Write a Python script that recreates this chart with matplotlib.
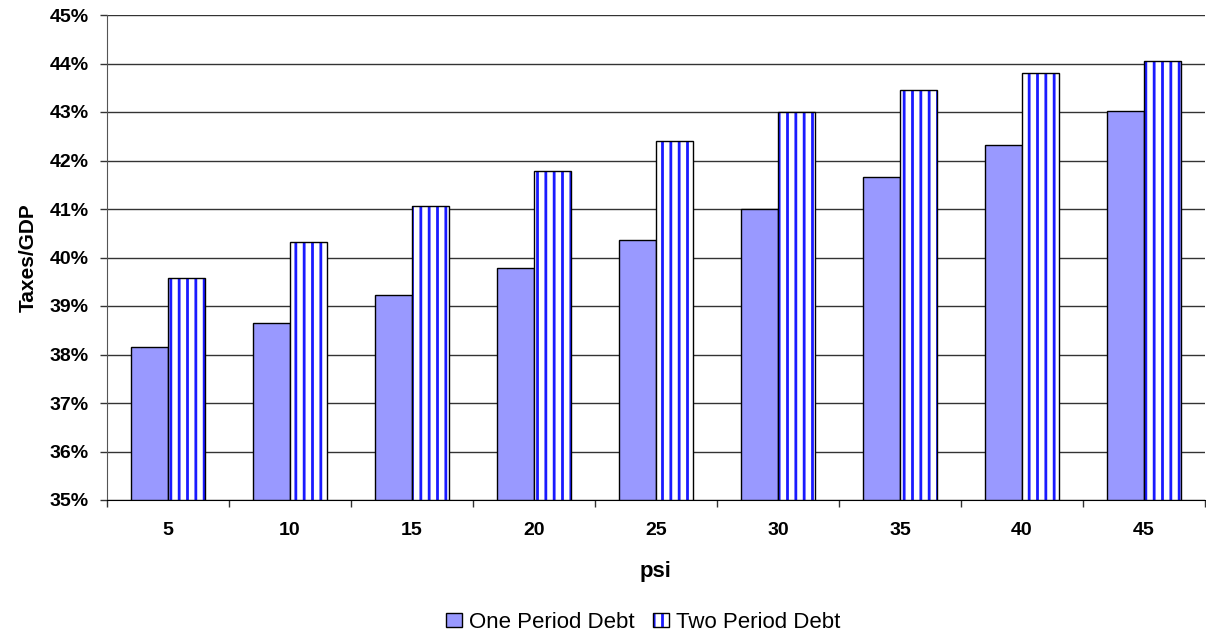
import matplotlib
matplotlib.use("Agg")
import matplotlib.pyplot as plt
import numpy as np
from matplotlib.ticker import FixedLocator, PercentFormatter
from matplotlib.patches import Patch
from matplotlib.legend_handler import HandlerTuple

psi = ["5", "10", "15", "20", "25", "30", "35", "40", "45"]
one_period = [38.15, 38.65, 39.23, 39.78, 40.36, 41.00, 41.66, 42.32, 43.02]
two_period = [39.58, 40.32, 41.06, 41.78, 42.40, 43.00, 43.46, 43.81, 44.05]
y_ticks = [35, 36, 37, 38, 39, 40, 41, 42, 43, 44, 45]

plt.rcParams["font.family"] = ["Liberation Sans", "DejaVu Sans"]
plt.rcParams["hatch.linewidth"] = 2.0

fig = plt.figure(figsize=(12.06, 6.37), dpi=100)
ax = fig.add_axes([107 / 1206, 1 - 500 / 637, (1205 - 107) / 1206, (500 - 15) / 637])

x = np.arange(len(psi))
w = 0.3
base = 35
one_h = np.array(one_period) - base
two_h = np.array(two_period) - base

ax.bar(x - w / 2, one_h, bottom=base, width=w,
       color="#9999ff", edgecolor="black", linewidth=1.0, zorder=3)
# striped fill in blue, outline drawn on top in black
ax.bar(x + w / 2, two_h, bottom=base, width=w,
       color="white", edgecolor="#1a1aff", linewidth=0, hatch="||", zorder=3)
ax.bar(x + w / 2, two_h, bottom=base, width=w,
       fill=False, edgecolor="black", linewidth=1.0, zorder=4)

ax.set_xlim(-0.5, len(psi) - 0.5)
ax.set_ylim(35, 45)
ax.yaxis.set_major_locator(FixedLocator(y_ticks))
ax.yaxis.set_major_formatter(PercentFormatter(decimals=0))
ax.grid(axis="y", color="#333333", linewidth=1.0, zorder=0)

ax.set_xticks(x)
ax.set_xticklabels(psi, fontsize=14, fontweight="bold")
ax.xaxis.set_minor_locator(FixedLocator(np.arange(-0.5, len(psi), 1.0)))
ax.tick_params(axis="x", which="major", length=0, pad=16)
ax.tick_params(axis="x", which="minor", length=5, width=1, color="#333333")
ax.tick_params(axis="y", length=5, width=1, color="#333333", labelsize=14, pad=8)
for lbl in ax.get_yticklabels():
    lbl.set_fontweight("bold")

for side in ("top", "right"):
    ax.spines[side].set_visible(False)
ax.spines["left"].set_color("#555555")
ax.spines["bottom"].set_color("black")

ax.set_xlabel("psi", fontsize=16, fontweight="bold", labelpad=16)
ax.set_ylabel("Taxes/GDP", fontsize=15, fontweight="bold", labelpad=9)

one_handle = Patch(facecolor="#9999ff", edgecolor="black", linewidth=1.0)
two_handle = (
    Patch(facecolor="white", edgecolor="#1a1aff", hatch="||", linewidth=0),
    Patch(fill=False, edgecolor="black", linewidth=1.0),
)
fig.legend([one_handle, two_handle], ["One Period Debt", "Two Period Debt"],
           handler_map={tuple: HandlerTuple(ndivide=1, pad=0)},
           loc="center", bbox_to_anchor=(643 / 1206, 1 - 622 / 637),
           ncol=2, frameon=False, fontsize=16, handlelength=0.75, handleheight=0.6,
           handletextpad=0.3, columnspacing=0.8)

fig.savefig("out.png", dpi=100)
